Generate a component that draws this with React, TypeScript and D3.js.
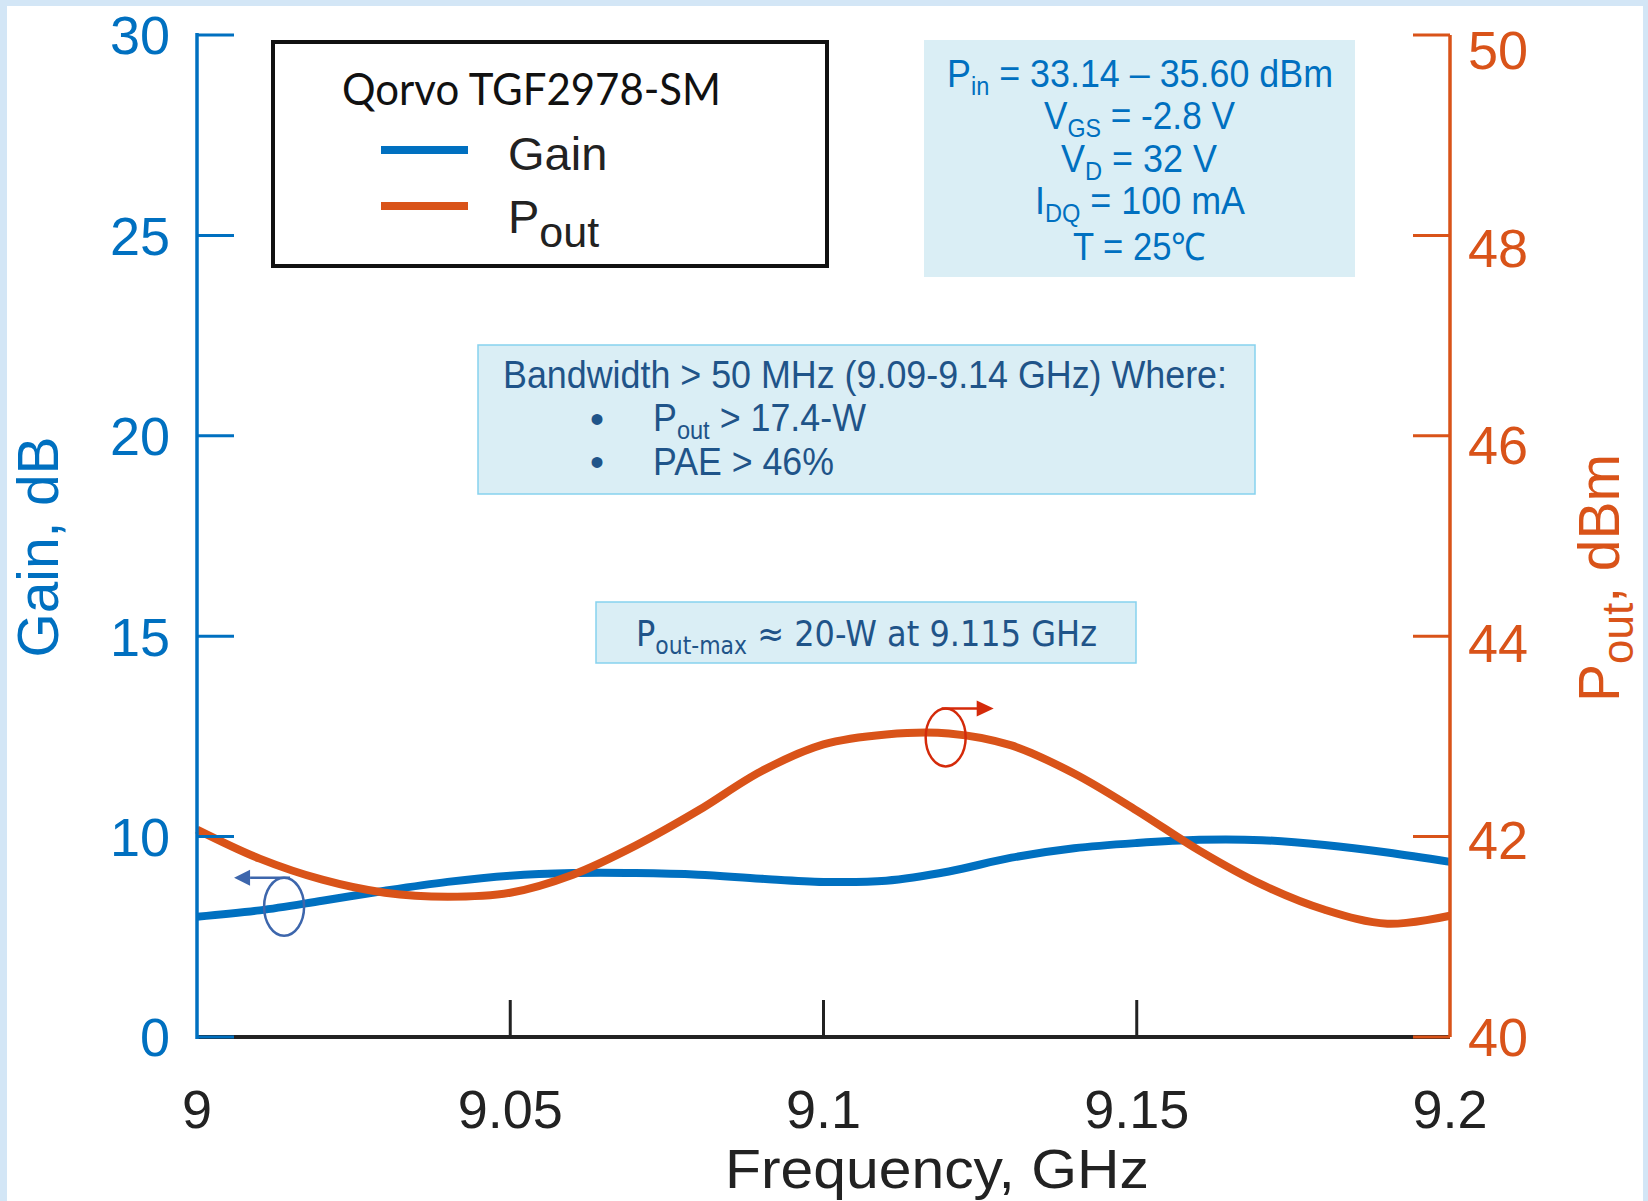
import React from "react";
import * as d3 from "d3";

// Frequency sweep, GHz
const freqGHz = [
  9.0, 9.01, 9.02, 9.03, 9.04, 9.05, 9.06, 9.07, 9.08, 9.09, 9.1, 9.11, 9.12,
  9.13, 9.14, 9.15, 9.16, 9.17, 9.18, 9.19, 9.2,
];
// Gain, dB (left axis)
const gainDb = [
  6.0, 6.32, 6.8, 7.3, 7.74, 8.05, 8.18, 8.18, 8.1, 7.9, 7.74, 7.8, 8.26, 8.95,
  9.42, 9.68, 9.84, 9.82, 9.58, 9.21, 8.74,
];
// Output power, dBm (right axis)
const poutDbm = [
  42.07, 41.78, 41.57, 41.44, 41.4, 41.44, 41.62, 41.91, 42.26, 42.65, 42.92,
  43.02, 43.03, 42.91, 42.63, 42.26, 41.86, 41.52, 41.27, 41.13, 41.21,
];

const xTicks = [9, 9.05, 9.1, 9.15, 9.2];
const xTickLabels = ["9", "9.05", "9.1", "9.15", "9.2"];
const gainTicks = [0, 10, 15, 20, 25, 30];
const poutTicks = [40, 42, 44, 46, 48, 50];

const BLUE = "#0070C0";
const ORANGE = "#D95319";
const DARKBLUE = "#1F5489";
const BOXFILL = "#DAEEF5";
const SANS = "'Liberation Sans', Arial, sans-serif";

export default function App() {
  const W = 1648;
  const H = 1201;
  const left = 197;
  const right = 1450;
  const top = 35;
  const bottom = 1037;
  const tickLen = 37;

  const x = d3.scaleLinear().domain([9, 9.2]).range([left, right]);
  const step = (bottom - top) / 5;
  // the printed gain axis jumps from 0 straight to 10
  const yGain = d3
    .scaleLinear()
    .domain([0, 10, 30])
    .range([bottom, bottom - step, top]);
  const yPout = d3.scaleLinear().domain([40, 50]).range([bottom, top]);

  const gainLine = d3
    .line<number>()
    .x((_, i) => x(freqGHz[i]))
    .y((d) => yGain(d))
    .curve(d3.curveCatmullRom);
  const poutLine = d3
    .line<number>()
    .x((_, i) => x(freqGHz[i]))
    .y((d) => yPout(d))
    .curve(d3.curveCatmullRom);

  // curve markers
  const gm = { cx: x(9.0139), cy: yGain(6.5), rx: 20, ry: 29 };
  const pm = { cx: x(9.1195), cy: yPout(42.99), rx: 20, ry: 29 };

  return (
    <svg
      width={W}
      height={H}
      style={{ position: "absolute", left: 0, top: 0, display: "block" }}
    >
      <rect x={0} y={0} width={W} height={H} fill="#D3E6F6" />
      <rect x={7} y={6} width={W - 12} height={H - 6} fill="#fff" />

      {/* curves */}
      <path d={gainLine(gainDb) || ""} fill="none" stroke={BLUE} strokeWidth={8} />
      <path d={poutLine(poutDbm) || ""} fill="none" stroke={ORANGE} strokeWidth={8} />

      {/* x axis */}
      <line x1={left} x2={right} y1={bottom} y2={bottom} stroke="#222" strokeWidth={4} />
      {xTicks
        .filter((t) => t > 9 && t < 9.2)
        .map((t) => (
          <line key={t} x1={x(t)} x2={x(t)} y1={bottom} y2={bottom - tickLen} stroke="#222" strokeWidth={3} />
        ))}
      {xTicks.map((t, i) => (
        <text key={t} x={x(t)} y={1128} textAnchor="middle" fontFamily={SANS} fontSize={54} fill="#222">
          {xTickLabels[i]}
        </text>
      ))}
      <text x={937} y={1188} textAnchor="middle" fontFamily={SANS} fontSize={56} fill="#222" textLength={424} lengthAdjust="spacingAndGlyphs">
        Frequency, GHz
      </text>

      {/* left gain axis */}
      <line x1={left} x2={left} y1={top - 2} y2={bottom + 2} stroke={BLUE} strokeWidth={3.5} />
      {gainTicks.map((t) => (
        <g key={t}>
          <line x1={left} x2={left + tickLen} y1={yGain(t)} y2={yGain(t)} stroke={BLUE} strokeWidth={3} />
          <text x={170} y={yGain(t)} dy="0.36em" textAnchor="end" fontFamily={SANS} fontSize={54} fill={BLUE}>
            {t}
          </text>
        </g>
      ))}
      <text
        transform={`translate(58,547) rotate(-90)`}
        textAnchor="middle"
        fontFamily={SANS}
        fontSize={57}
        fill={BLUE}
        textLength={221}
        lengthAdjust="spacingAndGlyphs"
      >
        Gain, dB
      </text>

      {/* right pout axis */}
      <line x1={right} x2={right} y1={top} y2={bottom} stroke={ORANGE} strokeWidth={3.5} />
      {poutTicks.map((t) => (
        <g key={t}>
          <line x1={right - tickLen} x2={right} y1={yPout(t)} y2={yPout(t)} stroke={ORANGE} strokeWidth={3} />
          <text
            x={1468}
            y={yPout(t) + (bottom - yPout(t)) * 0.015}
            dy="0.36em"
            textAnchor="start"
            fontFamily={SANS}
            fontSize={54}
            fill={ORANGE}
          >
            {t}
          </text>
        </g>
      ))}
      <text
        transform={`translate(1619,578) rotate(-90)`}
        textAnchor="middle"
        fontFamily={SANS}
        fontSize={57}
        fill={ORANGE}
      >
        P<tspan fontSize={44} dy={14}>out</tspan>
        <tspan dy={-14}>, dBm</tspan>
      </text>

      {/* legend */}
      <rect x={273} y={42} width={554} height={224} fill="#fff" stroke="#111" strokeWidth={4} />
      <text x={342} y={105} fontFamily="Lato, 'Open Sans', sans-serif" fontSize={44} fill="#111" textLength={379} lengthAdjust="spacingAndGlyphs">
        Qorvo TGF2978-SM
      </text>
      <line x1={381} x2={468} y1={150} y2={150} stroke={BLUE} strokeWidth={8} />
      <line x1={381} x2={468} y1={206} y2={206} stroke={ORANGE} strokeWidth={8} />
      <text x={508} y={170} fontFamily={SANS} fontSize={47} fill="#222">
        Gain
      </text>
      <text x={508} y={233} fontFamily={SANS} fontSize={47} fill="#222">
        P<tspan fontSize={43} dy={14}>out</tspan>
      </text>

      {/* test conditions */}
      <rect x={924} y={40} width={431} height={237} fill={BOXFILL} />
      <g fontFamily={SANS} fill={BLUE} fontSize={38}>
        <text x={947} y={87} textLength={386} lengthAdjust="spacingAndGlyphs">
          P<tspan fontSize={25} dy={8}>in</tspan>
          <tspan dy={-8}> = 33.14 – 35.60 dBm</tspan>
        </text>
        <text x={1044} y={129} textLength={191} lengthAdjust="spacingAndGlyphs">
          V<tspan fontSize={25} dy={8}>GS</tspan>
          <tspan dy={-8}> = -2.8 V</tspan>
        </text>
        <text x={1061} y={172} textLength={156} lengthAdjust="spacingAndGlyphs">
          V<tspan fontSize={25} dy={8}>D</tspan>
          <tspan dy={-8}> = 32 V</tspan>
        </text>
        <text x={1035} y={214} textLength={210} lengthAdjust="spacingAndGlyphs">
          I<tspan fontSize={25} dy={8}>DQ</tspan>
          <tspan dy={-8}> = 100 mA</tspan>
        </text>
        <text x={1073} y={260} textLength={133} lengthAdjust="spacingAndGlyphs">
          T = 25℃
        </text>
      </g>

      {/* bandwidth note */}
      <rect x={478} y={345} width={777} height={149} fill={BOXFILL} stroke="#86D2EE" strokeWidth={1.5} />
      <g fontFamily={SANS} fill={DARKBLUE} fontSize={38}>
        <text x={503} y={388} textLength={724} lengthAdjust="spacingAndGlyphs">
          Bandwidth &gt; 50 MHz (9.09-9.14 GHz) Where:
        </text>
        <text x={590} y={433} fontSize={40}>•</text>
        <text x={653} y={431} textLength={213} lengthAdjust="spacingAndGlyphs">
          P<tspan fontSize={25} dy={8}>out</tspan>
          <tspan dy={-8}> &gt; 17.4-W</tspan>
        </text>
        <text x={590} y={476} fontSize={40}>•</text>
        <text x={653} y={475} textLength={181} lengthAdjust="spacingAndGlyphs">
          PAE &gt; 46%
        </text>
      </g>

      {/* max output note */}
      <rect x={596} y={602} width={540} height={61} fill={BOXFILL} stroke="#86D2EE" strokeWidth={1.5} />
      <text x={636} y={646} fontFamily="'DejaVu Sans', Verdana, sans-serif" fontSize={35} fill={DARKBLUE} textLength={461} lengthAdjust="spacingAndGlyphs">
        P<tspan fontSize={24} dy={8}>out-max</tspan>
        <tspan dy={-8}> ≈ 20-W at 9.115 GHz</tspan>
      </text>

      {/* gain marker, arrow to left axis */}
      <ellipse cx={gm.cx} cy={gm.cy} rx={gm.rx} ry={gm.ry} fill="none" stroke="#3D66AC" strokeWidth={2.5} />
      <path
        d={`M${gm.cx + 6},${gm.cy - gm.ry} H${gm.cx - 34}`}
        fill="none"
        stroke="#3D66AC"
        strokeWidth={2.5}
      />
      <polygon
        points={`${gm.cx - 50},${gm.cy - gm.ry} ${gm.cx - 34},${gm.cy - gm.ry - 8} ${gm.cx - 34},${gm.cy - gm.ry + 8}`}
        fill="#3D66AC"
      />

      {/* pout marker, arrow to right axis */}
      <ellipse cx={pm.cx} cy={pm.cy} rx={pm.rx} ry={pm.ry} fill="none" stroke="#D42A0A" strokeWidth={2.5} />
      <path
        d={`M${pm.cx - 4},${pm.cy - pm.ry} H${pm.cx + 32}`}
        fill="none"
        stroke="#D42A0A"
        strokeWidth={2.5}
      />
      <polygon
        points={`${pm.cx + 48},${pm.cy - pm.ry} ${pm.cx + 31},${pm.cy - pm.ry - 8} ${pm.cx + 31},${pm.cy - pm.ry + 8}`}
        fill="#D42A0A"
      />
    </svg>
  );
}
